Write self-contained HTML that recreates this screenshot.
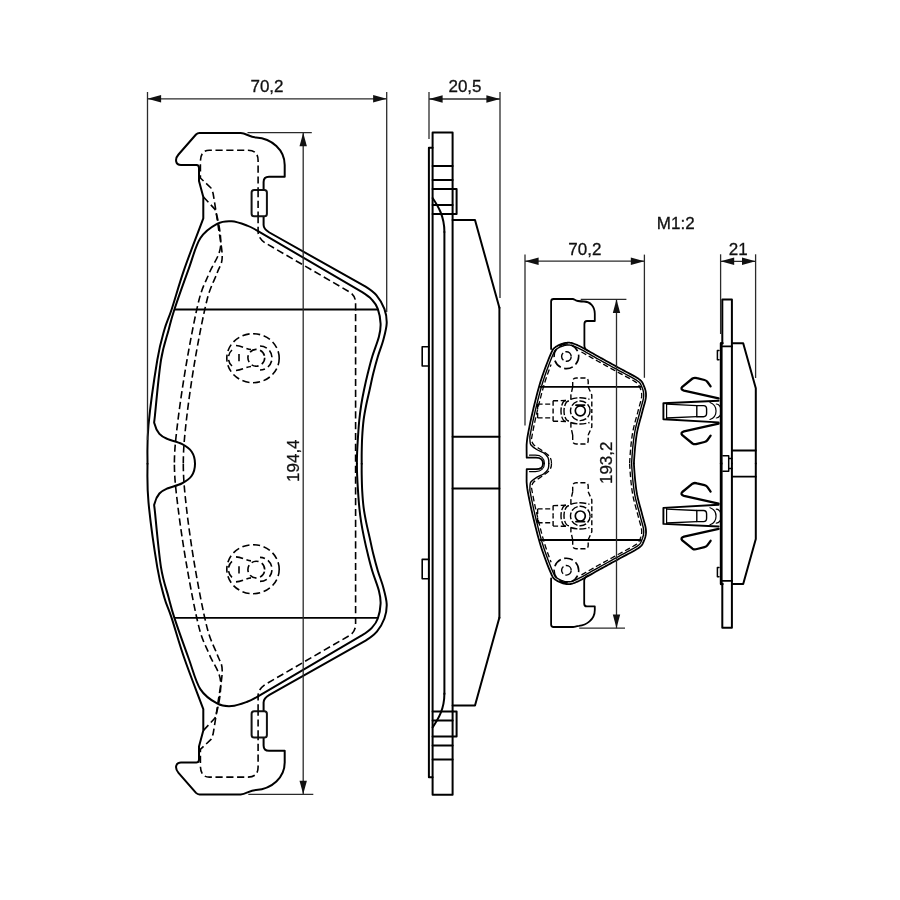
<!DOCTYPE html>
<html><head><meta charset="utf-8"><style>
html,body{margin:0;padding:0;background:#fff;}
svg{display:block;font-family:"Liberation Sans",sans-serif;will-change:transform;}
text{fill:#111;stroke:#111;stroke-width:0.3px;}
</style></head><body>
<svg width="900" height="900" viewBox="0 0 900 900">
<rect width="900" height="900" fill="#fff"/>
<g><path d="M147.5,463.7 C147.5,450.8 146.87,442.28 148.5,425 C150.13,407.72 154.67,375.83 157.3,360 C159.93,344.17 161.92,338.42 164.3,330 C166.68,321.58 168.25,319.68 171.6,309.5 C174.95,299.32 179.12,284.1 184.4,268.9 C189.68,253.7 197,235.17 203.3,218.3 L203.3,197 L199,181 L199,168 Q199,165 196.5,165 L181,165 C175.5,165 174.5,159 178.5,154.5 L196,134.5 Q197.5,133 199.5,133 L240.7,133 C246,133 249,137 256,137.5 C272,138.5 284.7,150 284.7,165 L284.7,176.7 L269,176.7 Q263.6,176.7 263.6,182 L263.6,225 Q263.6,229 269.4,232.5 L365.6,286.7 C373.38,291.62 373.57,291.9 376.7,295.6 C379.83,299.3 382.73,304.28 384.4,308.9 C386.07,313.52 386.88,318.12 386.7,323.3 C386.52,328.48 384.78,334.43 383.3,340 C381.82,345.57 379.47,351.15 377.8,356.7 C376.13,362.25 374.67,367.75 373.3,373.3 C371.93,378.85 370.78,384.72 369.6,390 C368.42,395.28 367.2,400 366.2,405 C365.2,410 364.27,414.72 363.6,420 C362.93,425.28 362.52,431.2 362.2,436.7 C361.88,442.2 361.78,448.5 361.7,453 C361.62,457.5 361.7,460.13 361.7,463.7" stroke="#000" stroke-width="2" fill="none" stroke-linejoin="round" stroke-linecap="round"/>
<path d="M195,463.7 C195,459.7 193.92,455 191.7,451.7 C189.48,448.4 185.78,446.03 181.7,443.9 C177.62,441.77 170.92,440.57 167.2,438.9 C163.48,437.23 161.5,436.38 159.4,433.9 C157.3,431.42 155.33,427.15 154.6,424 C153.87,420.85 153.93,425.67 155,415 C156.07,404.33 158.73,374.17 161,360 C163.27,345.83 166.37,338.42 168.6,330 C170.83,321.58 171.05,319.68 174.4,309.5 C177.75,299.32 184.38,280.77 188.7,268.9 C193.02,257.03 195.5,245.83 200.3,238.3 C205.1,230.77 212.27,226.53 217.5,223.7 C222.73,220.87 226.75,220.98 231.7,221.3 C236.65,221.62 242.95,224.05 247.2,225.6 C251.45,227.15 250.9,227.08 257.2,230.6 L362.2,292.2 C369.23,296.65 369.6,297.22 372.2,300 C374.8,302.78 376.4,304.93 377.8,308.9 C379.2,312.87 380.42,319.17 380.6,323.8 C380.78,328.43 380.3,331.22 378.9,336.7 C377.5,342.18 374.05,350.6 372.2,356.7 C370.35,362.8 369.17,367.75 367.8,373.3 C366.43,378.85 365.1,384.72 364,390 C362.9,395.28 361.98,400 361.2,405 C360.42,410 359.83,414.72 359.3,420 C358.77,425.28 358.37,431.2 358,436.7 C357.63,442.2 357.28,448.5 357.1,453 C356.92,457.5 356.92,460.13 356.9,463.7" stroke="#000" stroke-width="2" fill="none" stroke-linejoin="round" stroke-linecap="round"/>
<path d="M175,309.5 L377.3,309.5" stroke="#000" stroke-width="1.8" fill="none" stroke-linejoin="round" stroke-linecap="round"/>
<path d="M258.1,216 L258.1,160.5 Q258.1,150.3 248,150.3 L209.3,150.3 Q200.4,150.3 200.4,161.8 L200.4,178 L211,188 L213,193 C214.17,199.17 216.47,214.33 218,225 C219.53,235.67 222.33,249.03 222.2,257 C222.07,264.97 219.73,265.63 217.2,272.8 C214.67,279.97 210.7,285.47 207,300 C203.3,314.53 198.43,340 195,360 C191.57,380 188.35,402.72 186.4,420 C184.45,437.28 183.3,449.13 183.3,463.7" stroke="#000" stroke-width="1.6" fill="none" stroke-linejoin="round" stroke-linecap="butt" stroke-dasharray="7.2 3.6"/>
<path d="M203.5,197 L215,209.4 C217.85,217.57 221.53,235.43 220.6,246 C219.67,256.57 213,263.8 209.4,272.8 C205.8,281.8 202.73,285.47 199,300 C195.27,314.53 190.5,340 187,360 C183.5,380 180.1,402.72 178,420 C175.9,437.28 174.4,449.13 174.4,463.7" stroke="#000" stroke-width="1.6" fill="none" stroke-linejoin="round" stroke-linecap="butt" stroke-dasharray="7.2 3.6"/>
<path d="M258.1,216 L258.1,231.7 Q258.1,238 265,242.8 L350,292.2 Q355.6,296 355.6,303 L355.6,463.7" stroke="#000" stroke-width="1.6" fill="none" stroke-linejoin="round" stroke-linecap="butt" stroke-dasharray="7.2 3.6"/>
<rect x="251.6" y="190" width="15.3" height="26.2" rx="2.5" fill="#fff" stroke="#111" stroke-width="2"/>
<path d="M258.1,190 L258.1,216" stroke="#000" stroke-width="1.6" fill="none" stroke-linejoin="round" stroke-linecap="butt" stroke-dasharray="7.2 3.6"/>
<ellipse cx="253" cy="358.2" rx="26.2" ry="24.5" stroke="#000" stroke-width="1.6" fill="none" stroke-linejoin="round" stroke-linecap="butt" stroke-dasharray="7.2 3.6"/>
<circle cx="256.3" cy="357.8" r="8.4" stroke="#000" stroke-width="1.6" fill="none" stroke-linejoin="round" stroke-linecap="butt" stroke-dasharray="7.2 3.6"/>
<path d="M260,346 A12,12 0 0 1 260,370" stroke="#000" stroke-width="1.6" fill="none" stroke-linejoin="round" stroke-linecap="butt" stroke-dasharray="7.2 3.6"/>
<path d="M236,345.5 C242,346 246,349 251,349.5 M236,370.5 C242,370 246,367 251,366.5" stroke="#000" stroke-width="1.6" fill="none" stroke-linejoin="round" stroke-linecap="butt" stroke-dasharray="7.2 3.6"/>
<path d="M232,350 A9,10 0 0 0 232,366 M239,354 L239,362" stroke="#000" stroke-width="1.6" fill="none" stroke-linejoin="round" stroke-linecap="butt" stroke-dasharray="7.2 3.6"/></g>
<g transform="translate(0,927.4) scale(1,-1)"><path d="M147.5,463.7 C147.5,450.8 146.87,442.28 148.5,425 C150.13,407.72 154.67,375.83 157.3,360 C159.93,344.17 161.92,338.42 164.3,330 C166.68,321.58 168.25,319.68 171.6,309.5 C174.95,299.32 179.12,284.1 184.4,268.9 C189.68,253.7 197,235.17 203.3,218.3 L203.3,197 L199,181 L199,168 Q199,165 196.5,165 L181,165 C175.5,165 174.5,159 178.5,154.5 L196,134.5 Q197.5,133 199.5,133 L240.7,133 C246,133 249,137 256,137.5 C272,138.5 284.7,150 284.7,165 L284.7,176.7 L269,176.7 Q263.6,176.7 263.6,182 L263.6,225 Q263.6,229 269.4,232.5 L365.6,286.7 C373.38,291.62 373.57,291.9 376.7,295.6 C379.83,299.3 382.73,304.28 384.4,308.9 C386.07,313.52 386.88,318.12 386.7,323.3 C386.52,328.48 384.78,334.43 383.3,340 C381.82,345.57 379.47,351.15 377.8,356.7 C376.13,362.25 374.67,367.75 373.3,373.3 C371.93,378.85 370.78,384.72 369.6,390 C368.42,395.28 367.2,400 366.2,405 C365.2,410 364.27,414.72 363.6,420 C362.93,425.28 362.52,431.2 362.2,436.7 C361.88,442.2 361.78,448.5 361.7,453 C361.62,457.5 361.7,460.13 361.7,463.7" stroke="#000" stroke-width="2" fill="none" stroke-linejoin="round" stroke-linecap="round"/>
<path d="M195,463.7 C195,459.7 193.92,455 191.7,451.7 C189.48,448.4 185.78,446.03 181.7,443.9 C177.62,441.77 170.92,440.57 167.2,438.9 C163.48,437.23 161.5,436.38 159.4,433.9 C157.3,431.42 155.33,427.15 154.6,424 C153.87,420.85 153.93,425.67 155,415 C156.07,404.33 158.73,374.17 161,360 C163.27,345.83 166.37,338.42 168.6,330 C170.83,321.58 171.05,319.68 174.4,309.5 C177.75,299.32 184.38,280.77 188.7,268.9 C193.02,257.03 195.5,245.83 200.3,238.3 C205.1,230.77 212.27,226.53 217.5,223.7 C222.73,220.87 226.75,220.98 231.7,221.3 C236.65,221.62 242.95,224.05 247.2,225.6 C251.45,227.15 250.9,227.08 257.2,230.6 L362.2,292.2 C369.23,296.65 369.6,297.22 372.2,300 C374.8,302.78 376.4,304.93 377.8,308.9 C379.2,312.87 380.42,319.17 380.6,323.8 C380.78,328.43 380.3,331.22 378.9,336.7 C377.5,342.18 374.05,350.6 372.2,356.7 C370.35,362.8 369.17,367.75 367.8,373.3 C366.43,378.85 365.1,384.72 364,390 C362.9,395.28 361.98,400 361.2,405 C360.42,410 359.83,414.72 359.3,420 C358.77,425.28 358.37,431.2 358,436.7 C357.63,442.2 357.28,448.5 357.1,453 C356.92,457.5 356.92,460.13 356.9,463.7" stroke="#000" stroke-width="2" fill="none" stroke-linejoin="round" stroke-linecap="round"/>
<path d="M175,309.5 L377.3,309.5" stroke="#000" stroke-width="1.8" fill="none" stroke-linejoin="round" stroke-linecap="round"/>
<path d="M258.1,216 L258.1,160.5 Q258.1,150.3 248,150.3 L209.3,150.3 Q200.4,150.3 200.4,161.8 L200.4,178 L211,188 L213,193 C214.17,199.17 216.47,214.33 218,225 C219.53,235.67 222.33,249.03 222.2,257 C222.07,264.97 219.73,265.63 217.2,272.8 C214.67,279.97 210.7,285.47 207,300 C203.3,314.53 198.43,340 195,360 C191.57,380 188.35,402.72 186.4,420 C184.45,437.28 183.3,449.13 183.3,463.7" stroke="#000" stroke-width="1.6" fill="none" stroke-linejoin="round" stroke-linecap="butt" stroke-dasharray="7.2 3.6"/>
<path d="M203.5,197 L215,209.4 C217.85,217.57 221.53,235.43 220.6,246 C219.67,256.57 213,263.8 209.4,272.8 C205.8,281.8 202.73,285.47 199,300 C195.27,314.53 190.5,340 187,360 C183.5,380 180.1,402.72 178,420 C175.9,437.28 174.4,449.13 174.4,463.7" stroke="#000" stroke-width="1.6" fill="none" stroke-linejoin="round" stroke-linecap="butt" stroke-dasharray="7.2 3.6"/>
<path d="M258.1,216 L258.1,231.7 Q258.1,238 265,242.8 L350,292.2 Q355.6,296 355.6,303 L355.6,463.7" stroke="#000" stroke-width="1.6" fill="none" stroke-linejoin="round" stroke-linecap="butt" stroke-dasharray="7.2 3.6"/>
<rect x="251.6" y="190" width="15.3" height="26.2" rx="2.5" fill="#fff" stroke="#111" stroke-width="2"/>
<path d="M258.1,190 L258.1,216" stroke="#000" stroke-width="1.6" fill="none" stroke-linejoin="round" stroke-linecap="butt" stroke-dasharray="7.2 3.6"/>
<ellipse cx="253" cy="358.2" rx="26.2" ry="24.5" stroke="#000" stroke-width="1.6" fill="none" stroke-linejoin="round" stroke-linecap="butt" stroke-dasharray="7.2 3.6"/>
<circle cx="256.3" cy="357.8" r="8.4" stroke="#000" stroke-width="1.6" fill="none" stroke-linejoin="round" stroke-linecap="butt" stroke-dasharray="7.2 3.6"/>
<path d="M260,346 A12,12 0 0 1 260,370" stroke="#000" stroke-width="1.6" fill="none" stroke-linejoin="round" stroke-linecap="butt" stroke-dasharray="7.2 3.6"/>
<path d="M236,345.5 C242,346 246,349 251,349.5 M236,370.5 C242,370 246,367 251,366.5" stroke="#000" stroke-width="1.6" fill="none" stroke-linejoin="round" stroke-linecap="butt" stroke-dasharray="7.2 3.6"/>
<path d="M232,350 A9,10 0 0 0 232,366 M239,354 L239,362" stroke="#000" stroke-width="1.6" fill="none" stroke-linejoin="round" stroke-linecap="butt" stroke-dasharray="7.2 3.6"/></g>
<path d="M147.5,92 L147.5,440" stroke="#2a2a2a" stroke-width="1.3" fill="none"/>
<path d="M386.7,92 L386.7,312" stroke="#2a2a2a" stroke-width="1.3" fill="none"/>
<path d="M147.5,98.8 L386.7,98.8" stroke="#2a2a2a" stroke-width="1.3" fill="none"/>
<path d="M147.5,98.8 L161.1,95.1 L161.1,102.5 Z" fill="#111"/>
<path d="M386.7,98.8 L373.1,95.1 L373.1,102.5 Z" fill="#111"/>
<text x="267" y="92" text-anchor="middle" font-size="17">70,2</text>
<path d="M247.5,132.7 L311.8,132.7" stroke="#2a2a2a" stroke-width="1.3" fill="none"/>
<path d="M248.3,794.3 L313.3,794.3" stroke="#2a2a2a" stroke-width="1.3" fill="none"/>
<path d="M303.2,132.7 L303.2,794.3" stroke="#2a2a2a" stroke-width="1.3" fill="none"/>
<path d="M303.2,132.7 L299.5,146.3 L306.9,146.3 Z" fill="#111"/>
<path d="M303.2,794.3 L299.5,780.7 L306.9,780.7 Z" fill="#111"/>
<text transform="translate(299.4,460.7) rotate(-90)" text-anchor="middle" font-size="17">194,4</text>
<path d="M432.6,794.8 L432.6,132.4 L452.6,132.4 L452.6,794.8 Z" stroke="#000" stroke-width="2" fill="none" stroke-linejoin="round" stroke-linecap="round"/>
<path d="M428.9,777.3 L428.9,147.8 L432.6,147.8 M428.9,777.3 L432.6,777.3" stroke="#000" stroke-width="2" fill="none" stroke-linejoin="round" stroke-linecap="round"/>
<path d="M444.4,232 L444.4,694" stroke="#000" stroke-width="2" fill="none" stroke-linejoin="round" stroke-linecap="round"/>
<path d="M499.4,307.8 L499.4,618" stroke="#000" stroke-width="2" fill="none" stroke-linejoin="round" stroke-linecap="round"/>
<g><path d="M432.6,166 L452.6,166" stroke="#000" stroke-width="2" fill="none" stroke-linejoin="round" stroke-linecap="round"/>
<path d="M432.6,180 L452.6,180" stroke="#000" stroke-width="2" fill="none" stroke-linejoin="round" stroke-linecap="round"/>
<path d="M432.6,205 L452.6,205" stroke="#000" stroke-width="2" fill="none" stroke-linejoin="round" stroke-linecap="round"/>
<path d="M432.6,214 L452.6,214" stroke="#000" stroke-width="2" fill="none" stroke-linejoin="round" stroke-linecap="round"/>
<path d="M432.6,189 L456.6,189 L456.6,214 L452.6,214" stroke="#000" stroke-width="2" fill="none" stroke-linejoin="round" stroke-linecap="round"/>
<path d="M432.6,198 C438,206 444.4,216 444.4,232" stroke="#000" stroke-width="2" fill="none" stroke-linejoin="round" stroke-linecap="round"/>
<path d="M452.6,220 L475,220 L499.4,307.8" stroke="#000" stroke-width="2" fill="none" stroke-linejoin="round" stroke-linecap="round"/>
<path d="M452.6,436.8 L499.4,436.8" stroke="#000" stroke-width="2" fill="none" stroke-linejoin="round" stroke-linecap="round"/>
<path d="M428.9,346.7 L422.2,346.7 L422.2,366 L428.9,366" stroke="#000" stroke-width="1.6" fill="none" stroke-linejoin="round" stroke-linecap="round"/></g>
<g transform="translate(0,925.4) scale(1,-1)"><path d="M432.6,166 L452.6,166" stroke="#000" stroke-width="2" fill="none" stroke-linejoin="round" stroke-linecap="round"/>
<path d="M432.6,180 L452.6,180" stroke="#000" stroke-width="2" fill="none" stroke-linejoin="round" stroke-linecap="round"/>
<path d="M432.6,205 L452.6,205" stroke="#000" stroke-width="2" fill="none" stroke-linejoin="round" stroke-linecap="round"/>
<path d="M432.6,214 L452.6,214" stroke="#000" stroke-width="2" fill="none" stroke-linejoin="round" stroke-linecap="round"/>
<path d="M432.6,189 L456.6,189 L456.6,214 L452.6,214" stroke="#000" stroke-width="2" fill="none" stroke-linejoin="round" stroke-linecap="round"/>
<path d="M432.6,198 C438,206 444.4,216 444.4,232" stroke="#000" stroke-width="2" fill="none" stroke-linejoin="round" stroke-linecap="round"/>
<path d="M452.6,220 L475,220 L499.4,307.8" stroke="#000" stroke-width="2" fill="none" stroke-linejoin="round" stroke-linecap="round"/>
<path d="M452.6,436.8 L499.4,436.8" stroke="#000" stroke-width="2" fill="none" stroke-linejoin="round" stroke-linecap="round"/>
<path d="M428.9,346.7 L422.2,346.7 L422.2,366 L428.9,366" stroke="#000" stroke-width="1.6" fill="none" stroke-linejoin="round" stroke-linecap="round"/></g>
<path d="M429,92 L429,139" stroke="#2a2a2a" stroke-width="1.3" fill="none"/>
<path d="M500,92 L500,298" stroke="#2a2a2a" stroke-width="1.3" fill="none"/>
<path d="M429,99 L500,99" stroke="#2a2a2a" stroke-width="1.3" fill="none"/>
<path d="M429,99 L442.6,95.3 L442.6,102.7 Z" fill="#111"/>
<path d="M500,99 L486.4,95.3 L486.4,102.7 Z" fill="#111"/>
<text x="465" y="92" text-anchor="middle" font-size="17">20,5</text>
<g><path d="M543,463.4 C543,459.5 540.5,457.6 536,457.6 L526.7,457.7 L526.6,450 L526.6,445 L526.76,443 L526.93,441.18 L527.13,439.5 L527.34,437.91 L527.58,436.37 L527.85,434.83 L528.14,433.25 L528.46,431.58 L528.81,429.78 L529.2,427.8 L529.63,425.65 L530.1,423.37 L530.6,420.98 L531.13,418.52 L531.69,416 L532.27,413.44 L532.87,410.87 L533.48,408.31 L534.09,405.78 L534.7,403.3 L535.31,400.86 L535.92,398.42 L536.54,395.98 L537.17,393.54 L537.82,391.1 L538.48,388.66 L539.17,386.22 L539.88,383.78 L540.62,381.34 L541.4,378.9 L542.24,376.38 L543.15,373.73 L544.11,371.02 L545.11,368.28 L546.11,365.58 L547.11,362.97 L548.08,360.49 L549,358.2 L549.84,356.15 L550.6,354.4 L551.24,352.96 L551.76,351.79 L552.19,350.85 L552.58,350.1 L552.94,349.49 L553.31,348.98 L553.72,348.53 L554.2,348.09 L554.78,347.63 L555.5,347.1 L556.35,346.52 L557.31,345.94 L558.35,345.38 L559.46,344.84 L560.62,344.34 L561.81,343.89 L563.01,343.5 L564.2,343.18 L565.37,342.95 L566.5,342.8 L567.55,342.72 L568.52,342.69 L569.44,342.72 L570.35,342.8 L571.28,342.96 L572.27,343.21 L573.35,343.54 L574.56,343.98 L575.93,344.53 L577.5,345.2 L579.3,346.03 L581.3,347.05 L583.48,348.2 L585.79,349.47 L588.19,350.81 L590.63,352.2 L593.07,353.59 L595.48,354.96 L597.8,356.28 L600,357.5 L602.11,358.66 L604.19,359.8 L606.24,360.92 L608.27,362.04 L610.27,363.14 L612.25,364.23 L614.21,365.31 L616.16,366.38 L618.08,367.44 L620,368.5 L621.95,369.56 L623.96,370.64 L626,371.71 L628.03,372.78 L630.02,373.84 L631.94,374.87 L633.74,375.87 L635.41,376.83 L636.91,377.74 L638.2,378.6 L639.27,379.37 L640.13,380.04 L640.83,380.65 L641.38,381.21 L641.83,381.74 L642.2,382.29 L642.52,382.86 L642.83,383.48 L643.14,384.19 L643.5,385 L643.89,385.89 L644.28,386.82 L644.65,387.8 L645,388.82 L645.32,389.89 L645.59,391 L645.8,392.17 L645.95,393.39 L646.02,394.67 L646,396 L645.88,397.38 L645.67,398.81 L645.38,400.29 L645.02,401.82 L644.6,403.4 L644.14,405.04 L643.66,406.74 L643.17,408.49 L642.68,410.31 L642.2,412.2 L641.71,414.15 L641.17,416.15 L640.59,418.2 L639.99,420.32 L639.39,422.5 L638.79,424.74 L638.21,427.05 L637.65,429.43 L637.15,431.88 L636.7,434.4 L636.3,437.02 L635.93,439.76 L635.59,442.6 L635.27,445.51 L634.98,448.47 L634.72,451.47 L634.48,454.49 L634.26,457.49 L634.07,460.47 L633.9,463.4" stroke="#000" stroke-width="1.8" fill="none" stroke-linejoin="round" stroke-linecap="round"/>
<path d="M544.4,463.4 C544.4,458.5 541,455.2 535.5,455.2 L529.5,455.2" stroke="#000" stroke-width="1.2" fill="none" stroke-linejoin="round" stroke-linecap="round"/>
<path d="M548.8,463.4 C548.8,461.43 548.88,459.27 548,457.5 C547.12,455.73 545.38,454.13 543.5,452.8 C541.62,451.47 538.78,450.8 536.7,449.5 C534.62,448.2 532.12,446.42 531,445 C529.88,443.58 530.19,442.38 530,441 L529.85,436.74 L530.11,435.24 L530.4,433.68 L530.72,432.02 L531.07,430.22 L531.46,428.24 L531.88,426.1 L532.35,423.84 L532.85,421.47 L533.38,419.01 L533.94,416.5 L534.52,413.96 L535.11,411.4 L535.71,408.85 L536.32,406.32 L536.93,403.85 L537.54,401.42 L538.15,398.98 L538.77,396.55 L539.4,394.12 L540.04,391.7 L540.7,389.28 L541.38,386.86 L542.08,384.44 L542.82,382.03 L543.59,379.61 L544.42,377.11 L545.32,374.49 L546.28,371.79 L547.26,369.08 L548.26,366.39 L549.26,363.79 L550.22,361.34 L551.13,359.07 L551.96,357.05 L552.71,355.32 L553.34,353.89 L553.85,352.74 L554.26,351.85 L554.6,351.2 L554.86,350.74 L555.09,350.43 L555.34,350.16 L555.68,349.85 L556.18,349.46 L556.83,348.98 L557.59,348.46 L558.45,347.94 L559.4,347.43 L560.42,346.93 L561.48,346.48 L562.57,346.06 L563.66,345.71 L564.73,345.42 L565.75,345.21 L566.73,345.09 L567.67,345.02 L568.53,344.99 L569.3,345.01 L570.04,345.08 L570.81,345.21 L571.65,345.42 L572.62,345.72 L573.74,346.13 L575.05,346.65 L576.56,347.3 L578.29,348.1 L580.25,349.09 L582.39,350.23 L584.68,351.48 L587.06,352.82 L589.49,354.2 L591.93,355.59 L594.34,356.96 L596.68,358.28 L598.89,359.51 L601,360.67 L603.08,361.81 L605.13,362.94 L607.16,364.05 L609.16,365.15 L611.14,366.24 L613.1,367.32 L615.04,368.39 L616.97,369.46 L618.89,370.52 L620.86,371.59 L622.88,372.67 L624.93,373.75 L626.95,374.82 L628.93,375.87 L630.83,376.89 L632.62,377.87 L634.24,378.81 L635.68,379.69 L636.89,380.49 L637.89,381.21 L638.67,381.82 L639.26,382.33 L639.69,382.76 L640,383.13 L640.25,383.5 L640.48,383.92 L640.74,384.45 L641.04,385.13 L641.4,385.93 L641.78,386.8 L642.14,387.68 L642.49,388.58 L642.81,389.52 L643.1,390.48 L643.34,391.48 L643.53,392.52 L643.66,393.59 L643.72,394.71 L643.7,395.89 L643.6,397.11 L643.4,398.42 L643.13,399.8 L642.78,401.26 L642.38,402.8 L641.93,404.42 L641.45,406.11 L640.95,407.88 L640.45,409.73 L639.97,411.64 L639.48,413.56 L638.95,415.54 L638.38,417.58 L637.78,419.7 L637.17,421.89 L636.56,424.16 L635.97,426.51 L635.41,428.94 L634.89,431.44 L634.43,434.03 L634.02,436.7 L633.65,439.47 L633.3,442.34 L632.98,445.27 L632.69,448.26 L632.43,451.28 L632.19,454.31 L631.97,457.33 L631.77,460.33 L631.6,463.27" stroke="#000" stroke-width="1.4" fill="none" stroke-linejoin="round" stroke-linecap="round"/>
<path d="M551.5,463.4 C551.5,461.1 551.08,458.65 549.5,456.5 C547.92,454.35 544.67,452.5 542,450.5 C539.33,448.5 535.25,446.42 533.5,444.5 C531.75,442.58 531.74,440.49 531.5,439 L532.08,435.59 L532.36,434.05 L532.68,432.4 L533.03,430.61 L533.42,428.63 L533.84,426.5 L534.3,424.24 L534.8,421.88 L535.33,419.44 L535.89,416.94 L536.47,414.41 L537.06,411.85 L537.66,409.31 L538.27,406.8 L538.87,404.34 L539.48,401.9 L540.09,399.47 L540.71,397.04 L541.33,394.63 L541.97,392.21 L542.63,389.81 L543.3,387.41 L544,385.01 L544.73,382.62 L545.49,380.23 L546.31,377.75 L547.21,375.15 L548.16,372.47 L549.14,369.77 L550.14,367.1 L551.12,364.51" stroke="#000" stroke-width="1.3" fill="none" stroke-linejoin="round" stroke-linecap="butt" stroke-dasharray="5.5 2.8"/>
<path d="M581.44,351.99 L583.71,353.23 L586.07,354.56 L588.5,355.94 L590.94,357.33 L593.35,358.7 L595.7,360.03 L597.92,361.26 L600.04,362.43 L602.12,363.57 L604.17,364.69 L606.2,365.81 L608.2,366.91 L610.18,367.99 L612.14,369.07 L614.08,370.14 L616.01,371.21 L617.93,372.27 L619.91,373.35 L621.94,374.43 L623.99,375.52 L626.02,376.58 L627.99,377.63 L629.88,378.64 L631.63,379.62 L633.22,380.53 L634.61,381.37 L635.76,382.14 L636.69,382.81 L637.41,383.37 L637.9,383.8 L638.21,384.11 L638.4,384.34 L638.55,384.55 L638.71,384.85 L638.93,385.3 L639.21,385.94 L639.57,386.74 L639.94,387.58 L640.29,388.42 L640.61,389.26 L640.91,390.12 L641.16,391 L641.38,391.89 L641.55,392.81 L641.66,393.77 L641.72,394.75 L641.71,395.79 L641.61,396.88 L641.43,398.07 L641.18,399.37 L640.84,400.78 L640.45,402.28 L640,403.88 L639.53,405.57 L639.02,407.35 L638.52,409.23 L638.03,411.14 L637.55,413.06 L637.02,415.01 L636.45,417.04 L635.85,419.16 L635.24,421.37 L634.63,423.66 L634.03,426.04 L633.45,428.51 L632.93,431.07 L632.46,433.7 L632.04,436.41 L631.66,439.22 L631.31,442.11 L630.99,445.07 L630.7,448.08 L630.43,451.12 L630.19,454.16 L629.97,457.2 L629.78,460.21 L629.61,463.15" stroke="#000" stroke-width="1.3" fill="none" stroke-linejoin="round" stroke-linecap="butt" stroke-dasharray="5.5 2.8"/>
<path d="M540.2,386.8 L640.6,386.8" stroke="#000" stroke-width="1.8" fill="none" stroke-linejoin="round" stroke-linecap="round"/>
<circle cx="566.4" cy="356.3" r="12.3" stroke="#000" stroke-width="1.6" fill="none" stroke-linejoin="round" stroke-linecap="butt" stroke-dasharray="9 3.5"/>
<circle cx="566.4" cy="356.5" r="4.8" stroke="#000" stroke-width="1.4" fill="none" stroke-linejoin="round" stroke-linecap="butt" stroke-dasharray="8 2.5"/>
<g><path d="M572.7,387 L572.7,381.5 Q572.7,378 576.2,378 L584.7,378 Q588.2,378 588.2,381.5 L588.2,387" stroke="#000" stroke-width="1.4" fill="none" stroke-linejoin="round" stroke-linecap="butt" stroke-dasharray="5 2.6"/>
<path d="M572.7,387 L570.9,395 L570.9,400 M588.2,387 L591.8,395 L591.8,411" stroke="#000" stroke-width="1.4" fill="none" stroke-linejoin="round" stroke-linecap="butt" stroke-dasharray="5 2.6"/>
<path d="M537.6,404.1 L553.1,404.1 M553.1,400.8 L566,400.5 M537.6,404.1 L537.6,411 M553.1,400.8 L553.1,411" stroke="#000" stroke-width="1.4" fill="none" stroke-linejoin="round" stroke-linecap="butt" stroke-dasharray="5 2.6"/></g>
<g transform="translate(0,822) scale(1,-1)"><path d="M572.7,387 L572.7,381.5 Q572.7,378 576.2,378 L584.7,378 Q588.2,378 588.2,381.5 L588.2,387" stroke="#000" stroke-width="1.4" fill="none" stroke-linejoin="round" stroke-linecap="butt" stroke-dasharray="5 2.6"/>
<path d="M572.7,387 L570.9,395 L570.9,400 M588.2,387 L591.8,395 L591.8,411" stroke="#000" stroke-width="1.4" fill="none" stroke-linejoin="round" stroke-linecap="butt" stroke-dasharray="5 2.6"/>
<path d="M537.6,404.1 L553.1,404.1 M553.1,400.8 L566,400.5 M537.6,404.1 L537.6,411 M553.1,400.8 L553.1,411" stroke="#000" stroke-width="1.4" fill="none" stroke-linejoin="round" stroke-linecap="butt" stroke-dasharray="5 2.6"/></g>
<circle cx="580.3" cy="410.8" r="9.8" stroke="#000" stroke-width="1.4" fill="none" stroke-linejoin="round" stroke-linecap="butt" stroke-dasharray="7 2"/>
<circle cx="580.3" cy="410.8" r="5" stroke="#000" stroke-width="1.7" fill="none"/>
<path d="M576,405.2 L584.5,405.2" stroke="#000" stroke-width="1.8" fill="none" stroke-linejoin="round" stroke-linecap="round"/>
<path d="M570.5,399.3 Q580,396.3 589.5,399.3 M570.5,422.5 Q580,425.5 589.5,422.5" stroke="#000" stroke-width="1.4" fill="none" stroke-linejoin="round" stroke-linecap="butt" stroke-dasharray="7 2"/>
<path d="M566,400.5 A5,10.5 0 0 0 566,421.5 M569,401 A5,10 0 0 0 569,421" stroke="#000" stroke-width="1.4" fill="none" stroke-linejoin="round" stroke-linecap="butt" stroke-dasharray="7 2"/></g>
<g transform="translate(0,926.8) scale(1,-1)"><path d="M543,463.4 C543,459.5 540.5,457.6 536,457.6 L526.7,457.7 L526.6,450 L526.6,445 L526.76,443 L526.93,441.18 L527.13,439.5 L527.34,437.91 L527.58,436.37 L527.85,434.83 L528.14,433.25 L528.46,431.58 L528.81,429.78 L529.2,427.8 L529.63,425.65 L530.1,423.37 L530.6,420.98 L531.13,418.52 L531.69,416 L532.27,413.44 L532.87,410.87 L533.48,408.31 L534.09,405.78 L534.7,403.3 L535.31,400.86 L535.92,398.42 L536.54,395.98 L537.17,393.54 L537.82,391.1 L538.48,388.66 L539.17,386.22 L539.88,383.78 L540.62,381.34 L541.4,378.9 L542.24,376.38 L543.15,373.73 L544.11,371.02 L545.11,368.28 L546.11,365.58 L547.11,362.97 L548.08,360.49 L549,358.2 L549.84,356.15 L550.6,354.4 L551.24,352.96 L551.76,351.79 L552.19,350.85 L552.58,350.1 L552.94,349.49 L553.31,348.98 L553.72,348.53 L554.2,348.09 L554.78,347.63 L555.5,347.1 L556.35,346.52 L557.31,345.94 L558.35,345.38 L559.46,344.84 L560.62,344.34 L561.81,343.89 L563.01,343.5 L564.2,343.18 L565.37,342.95 L566.5,342.8 L567.55,342.72 L568.52,342.69 L569.44,342.72 L570.35,342.8 L571.28,342.96 L572.27,343.21 L573.35,343.54 L574.56,343.98 L575.93,344.53 L577.5,345.2 L579.3,346.03 L581.3,347.05 L583.48,348.2 L585.79,349.47 L588.19,350.81 L590.63,352.2 L593.07,353.59 L595.48,354.96 L597.8,356.28 L600,357.5 L602.11,358.66 L604.19,359.8 L606.24,360.92 L608.27,362.04 L610.27,363.14 L612.25,364.23 L614.21,365.31 L616.16,366.38 L618.08,367.44 L620,368.5 L621.95,369.56 L623.96,370.64 L626,371.71 L628.03,372.78 L630.02,373.84 L631.94,374.87 L633.74,375.87 L635.41,376.83 L636.91,377.74 L638.2,378.6 L639.27,379.37 L640.13,380.04 L640.83,380.65 L641.38,381.21 L641.83,381.74 L642.2,382.29 L642.52,382.86 L642.83,383.48 L643.14,384.19 L643.5,385 L643.89,385.89 L644.28,386.82 L644.65,387.8 L645,388.82 L645.32,389.89 L645.59,391 L645.8,392.17 L645.95,393.39 L646.02,394.67 L646,396 L645.88,397.38 L645.67,398.81 L645.38,400.29 L645.02,401.82 L644.6,403.4 L644.14,405.04 L643.66,406.74 L643.17,408.49 L642.68,410.31 L642.2,412.2 L641.71,414.15 L641.17,416.15 L640.59,418.2 L639.99,420.32 L639.39,422.5 L638.79,424.74 L638.21,427.05 L637.65,429.43 L637.15,431.88 L636.7,434.4 L636.3,437.02 L635.93,439.76 L635.59,442.6 L635.27,445.51 L634.98,448.47 L634.72,451.47 L634.48,454.49 L634.26,457.49 L634.07,460.47 L633.9,463.4" stroke="#000" stroke-width="1.8" fill="none" stroke-linejoin="round" stroke-linecap="round"/>
<path d="M544.4,463.4 C544.4,458.5 541,455.2 535.5,455.2 L529.5,455.2" stroke="#000" stroke-width="1.2" fill="none" stroke-linejoin="round" stroke-linecap="round"/>
<path d="M548.8,463.4 C548.8,461.43 548.88,459.27 548,457.5 C547.12,455.73 545.38,454.13 543.5,452.8 C541.62,451.47 538.78,450.8 536.7,449.5 C534.62,448.2 532.12,446.42 531,445 C529.88,443.58 530.19,442.38 530,441 L529.85,436.74 L530.11,435.24 L530.4,433.68 L530.72,432.02 L531.07,430.22 L531.46,428.24 L531.88,426.1 L532.35,423.84 L532.85,421.47 L533.38,419.01 L533.94,416.5 L534.52,413.96 L535.11,411.4 L535.71,408.85 L536.32,406.32 L536.93,403.85 L537.54,401.42 L538.15,398.98 L538.77,396.55 L539.4,394.12 L540.04,391.7 L540.7,389.28 L541.38,386.86 L542.08,384.44 L542.82,382.03 L543.59,379.61 L544.42,377.11 L545.32,374.49 L546.28,371.79 L547.26,369.08 L548.26,366.39 L549.26,363.79 L550.22,361.34 L551.13,359.07 L551.96,357.05 L552.71,355.32 L553.34,353.89 L553.85,352.74 L554.26,351.85 L554.6,351.2 L554.86,350.74 L555.09,350.43 L555.34,350.16 L555.68,349.85 L556.18,349.46 L556.83,348.98 L557.59,348.46 L558.45,347.94 L559.4,347.43 L560.42,346.93 L561.48,346.48 L562.57,346.06 L563.66,345.71 L564.73,345.42 L565.75,345.21 L566.73,345.09 L567.67,345.02 L568.53,344.99 L569.3,345.01 L570.04,345.08 L570.81,345.21 L571.65,345.42 L572.62,345.72 L573.74,346.13 L575.05,346.65 L576.56,347.3 L578.29,348.1 L580.25,349.09 L582.39,350.23 L584.68,351.48 L587.06,352.82 L589.49,354.2 L591.93,355.59 L594.34,356.96 L596.68,358.28 L598.89,359.51 L601,360.67 L603.08,361.81 L605.13,362.94 L607.16,364.05 L609.16,365.15 L611.14,366.24 L613.1,367.32 L615.04,368.39 L616.97,369.46 L618.89,370.52 L620.86,371.59 L622.88,372.67 L624.93,373.75 L626.95,374.82 L628.93,375.87 L630.83,376.89 L632.62,377.87 L634.24,378.81 L635.68,379.69 L636.89,380.49 L637.89,381.21 L638.67,381.82 L639.26,382.33 L639.69,382.76 L640,383.13 L640.25,383.5 L640.48,383.92 L640.74,384.45 L641.04,385.13 L641.4,385.93 L641.78,386.8 L642.14,387.68 L642.49,388.58 L642.81,389.52 L643.1,390.48 L643.34,391.48 L643.53,392.52 L643.66,393.59 L643.72,394.71 L643.7,395.89 L643.6,397.11 L643.4,398.42 L643.13,399.8 L642.78,401.26 L642.38,402.8 L641.93,404.42 L641.45,406.11 L640.95,407.88 L640.45,409.73 L639.97,411.64 L639.48,413.56 L638.95,415.54 L638.38,417.58 L637.78,419.7 L637.17,421.89 L636.56,424.16 L635.97,426.51 L635.41,428.94 L634.89,431.44 L634.43,434.03 L634.02,436.7 L633.65,439.47 L633.3,442.34 L632.98,445.27 L632.69,448.26 L632.43,451.28 L632.19,454.31 L631.97,457.33 L631.77,460.33 L631.6,463.27" stroke="#000" stroke-width="1.4" fill="none" stroke-linejoin="round" stroke-linecap="round"/>
<path d="M551.5,463.4 C551.5,461.1 551.08,458.65 549.5,456.5 C547.92,454.35 544.67,452.5 542,450.5 C539.33,448.5 535.25,446.42 533.5,444.5 C531.75,442.58 531.74,440.49 531.5,439 L532.08,435.59 L532.36,434.05 L532.68,432.4 L533.03,430.61 L533.42,428.63 L533.84,426.5 L534.3,424.24 L534.8,421.88 L535.33,419.44 L535.89,416.94 L536.47,414.41 L537.06,411.85 L537.66,409.31 L538.27,406.8 L538.87,404.34 L539.48,401.9 L540.09,399.47 L540.71,397.04 L541.33,394.63 L541.97,392.21 L542.63,389.81 L543.3,387.41 L544,385.01 L544.73,382.62 L545.49,380.23 L546.31,377.75 L547.21,375.15 L548.16,372.47 L549.14,369.77 L550.14,367.1 L551.12,364.51" stroke="#000" stroke-width="1.3" fill="none" stroke-linejoin="round" stroke-linecap="butt" stroke-dasharray="5.5 2.8"/>
<path d="M581.44,351.99 L583.71,353.23 L586.07,354.56 L588.5,355.94 L590.94,357.33 L593.35,358.7 L595.7,360.03 L597.92,361.26 L600.04,362.43 L602.12,363.57 L604.17,364.69 L606.2,365.81 L608.2,366.91 L610.18,367.99 L612.14,369.07 L614.08,370.14 L616.01,371.21 L617.93,372.27 L619.91,373.35 L621.94,374.43 L623.99,375.52 L626.02,376.58 L627.99,377.63 L629.88,378.64 L631.63,379.62 L633.22,380.53 L634.61,381.37 L635.76,382.14 L636.69,382.81 L637.41,383.37 L637.9,383.8 L638.21,384.11 L638.4,384.34 L638.55,384.55 L638.71,384.85 L638.93,385.3 L639.21,385.94 L639.57,386.74 L639.94,387.58 L640.29,388.42 L640.61,389.26 L640.91,390.12 L641.16,391 L641.38,391.89 L641.55,392.81 L641.66,393.77 L641.72,394.75 L641.71,395.79 L641.61,396.88 L641.43,398.07 L641.18,399.37 L640.84,400.78 L640.45,402.28 L640,403.88 L639.53,405.57 L639.02,407.35 L638.52,409.23 L638.03,411.14 L637.55,413.06 L637.02,415.01 L636.45,417.04 L635.85,419.16 L635.24,421.37 L634.63,423.66 L634.03,426.04 L633.45,428.51 L632.93,431.07 L632.46,433.7 L632.04,436.41 L631.66,439.22 L631.31,442.11 L630.99,445.07 L630.7,448.08 L630.43,451.12 L630.19,454.16 L629.97,457.2 L629.78,460.21 L629.61,463.15" stroke="#000" stroke-width="1.3" fill="none" stroke-linejoin="round" stroke-linecap="butt" stroke-dasharray="5.5 2.8"/>
<path d="M540.2,386.8 L640.6,386.8" stroke="#000" stroke-width="1.8" fill="none" stroke-linejoin="round" stroke-linecap="round"/>
<circle cx="566.4" cy="356.3" r="12.3" stroke="#000" stroke-width="1.6" fill="none" stroke-linejoin="round" stroke-linecap="butt" stroke-dasharray="9 3.5"/>
<circle cx="566.4" cy="356.5" r="4.8" stroke="#000" stroke-width="1.4" fill="none" stroke-linejoin="round" stroke-linecap="butt" stroke-dasharray="8 2.5"/>
<g><path d="M572.7,387 L572.7,381.5 Q572.7,378 576.2,378 L584.7,378 Q588.2,378 588.2,381.5 L588.2,387" stroke="#000" stroke-width="1.4" fill="none" stroke-linejoin="round" stroke-linecap="butt" stroke-dasharray="5 2.6"/>
<path d="M572.7,387 L570.9,395 L570.9,400 M588.2,387 L591.8,395 L591.8,411" stroke="#000" stroke-width="1.4" fill="none" stroke-linejoin="round" stroke-linecap="butt" stroke-dasharray="5 2.6"/>
<path d="M537.6,404.1 L553.1,404.1 M553.1,400.8 L566,400.5 M537.6,404.1 L537.6,411 M553.1,400.8 L553.1,411" stroke="#000" stroke-width="1.4" fill="none" stroke-linejoin="round" stroke-linecap="butt" stroke-dasharray="5 2.6"/></g>
<g transform="translate(0,822) scale(1,-1)"><path d="M572.7,387 L572.7,381.5 Q572.7,378 576.2,378 L584.7,378 Q588.2,378 588.2,381.5 L588.2,387" stroke="#000" stroke-width="1.4" fill="none" stroke-linejoin="round" stroke-linecap="butt" stroke-dasharray="5 2.6"/>
<path d="M572.7,387 L570.9,395 L570.9,400 M588.2,387 L591.8,395 L591.8,411" stroke="#000" stroke-width="1.4" fill="none" stroke-linejoin="round" stroke-linecap="butt" stroke-dasharray="5 2.6"/>
<path d="M537.6,404.1 L553.1,404.1 M553.1,400.8 L566,400.5 M537.6,404.1 L537.6,411 M553.1,400.8 L553.1,411" stroke="#000" stroke-width="1.4" fill="none" stroke-linejoin="round" stroke-linecap="butt" stroke-dasharray="5 2.6"/></g>
<circle cx="580.3" cy="410.8" r="9.8" stroke="#000" stroke-width="1.4" fill="none" stroke-linejoin="round" stroke-linecap="butt" stroke-dasharray="7 2"/>
<circle cx="580.3" cy="410.8" r="5" stroke="#000" stroke-width="1.7" fill="none"/>
<path d="M576,405.2 L584.5,405.2" stroke="#000" stroke-width="1.8" fill="none" stroke-linejoin="round" stroke-linecap="round"/>
<path d="M570.5,399.3 Q580,396.3 589.5,399.3 M570.5,422.5 Q580,425.5 589.5,422.5" stroke="#000" stroke-width="1.4" fill="none" stroke-linejoin="round" stroke-linecap="butt" stroke-dasharray="7 2"/>
<path d="M566,400.5 A5,10.5 0 0 0 566,421.5 M569,401 A5,10 0 0 0 569,421" stroke="#000" stroke-width="1.4" fill="none" stroke-linejoin="round" stroke-linecap="butt" stroke-dasharray="7 2"/></g>
<path d="M551.1,349 L551.1,301.5 Q551.1,299 553.6,299 L572.8,299 C574.5,299 575,300.5 578,301 C580,301.3 582,301.5 584,301.5 C590,301.7 594.8,306 594.8,313.8 L594.8,321 L587,321 Q584.4,321 584.4,324 L584.4,346 Q584.6,349.3 588.5,351" stroke="#000" stroke-width="1.8" fill="none" stroke-linejoin="round" stroke-linecap="round"/>
<path d="M551.1,578.5 L551.1,624.5 Q551.1,627 553.6,627 L573.2,627 C575,627 576,626 578.9,625.9 C586,625.2 594.8,620 594.8,610 L594.8,606.4 L587,606.4 Q584.2,606.4 584.2,603.4 L584.2,580.5 Q584.4,577.2 588.3,575.5" stroke="#000" stroke-width="1.8" fill="none" stroke-linejoin="round" stroke-linecap="round"/>
<path d="M525,254.6 L525,425.5" stroke="#2a2a2a" stroke-width="1.3" fill="none"/>
<path d="M644.4,254.6 L644.4,377.8" stroke="#2a2a2a" stroke-width="1.3" fill="none"/>
<path d="M525,261.2 L644.4,261.2" stroke="#2a2a2a" stroke-width="1.3" fill="none"/>
<path d="M525,261.2 L538.6,257.5 L538.6,264.9 Z" fill="#111"/>
<path d="M644.4,261.2 L630.8,257.5 L630.8,264.9 Z" fill="#111"/>
<text x="584.9" y="254.6" text-anchor="middle" font-size="17">70,2</text>
<path d="M580.7,299.3 L626.4,299.3" stroke="#2a2a2a" stroke-width="1.3" fill="none"/>
<path d="M579.2,628.2 L625,628.2" stroke="#2a2a2a" stroke-width="1.3" fill="none"/>
<path d="M616.5,299.3 L616.5,628.2" stroke="#2a2a2a" stroke-width="1.3" fill="none"/>
<path d="M616.5,299.3 L612.8,312.9 L620.2,312.9 Z" fill="#111"/>
<path d="M616.5,628.2 L612.8,614.6 L620.2,614.6 Z" fill="#111"/>
<text transform="translate(611.5,462.8) rotate(-90)" text-anchor="middle" font-size="17">193,2</text>
<g><path d="M722.3,343.3 L722.3,299.4 L731.9,299.4 L731.9,463.6" stroke="#000" stroke-width="2" fill="none" stroke-linejoin="round" stroke-linecap="round"/>
<path d="M721.2,463.6 L721.2,343.3 L722.3,343.3" stroke="#000" stroke-width="2.8" fill="none" stroke-linejoin="round" stroke-linecap="round"/>
<path d="M722.3,346.4 L732.1,346.4" stroke="#000" stroke-width="1.8" fill="none" stroke-linejoin="round" stroke-linecap="round"/>
<path d="M732.1,343.3 L743.2,343.3 L755.8,388.3 L755.8,463.6" stroke="#000" stroke-width="2" fill="none" stroke-linejoin="round" stroke-linecap="round"/>
<path d="M732.1,450.5 L755.8,450.5" stroke="#000" stroke-width="1.8" fill="none" stroke-linejoin="round" stroke-linecap="round"/>
<path d="M719,350.4 L717.4,350.4 L717.4,359.8 L719,359.8" stroke="#000" stroke-width="1.5" fill="none" stroke-linejoin="round" stroke-linecap="round"/>
<path d="M718.6,400.7 L663.4,403.3 L663.4,419.3 L718.6,422.4" stroke="#000" stroke-width="1.9" fill="none" stroke-linejoin="round" stroke-linecap="round"/>
<path d="M666.6,403.5 L666.6,419" stroke="#000" stroke-width="1.2" fill="none" stroke-linejoin="round" stroke-linecap="round"/>
<path d="M666.6,404.2 L696.8,405.6 M666.6,418 L696.8,416.7" stroke="#000" stroke-width="1.3" fill="none" stroke-linejoin="round" stroke-linecap="round"/>
<path d="M696.8,405.6 L703.5,405.6 Q706.6,405.6 706.6,409 L706.6,413.3 Q706.6,416.7 703.5,416.7 L696.8,416.7 Z" stroke="#000" stroke-width="1.4" fill="none" stroke-linejoin="round" stroke-linecap="round"/>
<path d="M710,402.5 A9,9 0 0 1 710,419.5 M716.3,404 A5,7 0 0 1 716.3,418" stroke="#000" stroke-width="1.2" fill="none" stroke-linejoin="round" stroke-linecap="round"/>
<path d="M718.6,398.4 L684,390.6 Q680,389.3 682.3,386.8 L692.5,378.5 Q694.5,377.3 697,378.2 L704.5,380 Q706.5,380.5 707.5,382 L710.6,386.4" stroke="#000" stroke-width="2.3" fill="none" stroke-linejoin="round" stroke-linecap="round"/>
<g transform="translate(0,822) scale(1,-1)"><path d="M718.6,398.4 L684,390.6 Q680,389.3 682.3,386.8 L692.5,378.5 Q694.5,377.3 697,378.2 L704.5,380 Q706.5,380.5 707.5,382 L710.6,386.4" stroke="#000" stroke-width="2.3" fill="none" stroke-linejoin="round" stroke-linecap="round"/></g></g>
<g transform="translate(0,927.2) scale(1,-1)"><path d="M722.3,343.3 L722.3,299.4 L731.9,299.4 L731.9,463.6" stroke="#000" stroke-width="2" fill="none" stroke-linejoin="round" stroke-linecap="round"/>
<path d="M721.2,463.6 L721.2,343.3 L722.3,343.3" stroke="#000" stroke-width="2.8" fill="none" stroke-linejoin="round" stroke-linecap="round"/>
<path d="M722.3,346.4 L732.1,346.4" stroke="#000" stroke-width="1.8" fill="none" stroke-linejoin="round" stroke-linecap="round"/>
<path d="M732.1,343.3 L743.2,343.3 L755.8,388.3 L755.8,463.6" stroke="#000" stroke-width="2" fill="none" stroke-linejoin="round" stroke-linecap="round"/>
<path d="M732.1,450.5 L755.8,450.5" stroke="#000" stroke-width="1.8" fill="none" stroke-linejoin="round" stroke-linecap="round"/>
<path d="M719,350.4 L717.4,350.4 L717.4,359.8 L719,359.8" stroke="#000" stroke-width="1.5" fill="none" stroke-linejoin="round" stroke-linecap="round"/>
<path d="M718.6,400.7 L663.4,403.3 L663.4,419.3 L718.6,422.4" stroke="#000" stroke-width="1.9" fill="none" stroke-linejoin="round" stroke-linecap="round"/>
<path d="M666.6,403.5 L666.6,419" stroke="#000" stroke-width="1.2" fill="none" stroke-linejoin="round" stroke-linecap="round"/>
<path d="M666.6,404.2 L696.8,405.6 M666.6,418 L696.8,416.7" stroke="#000" stroke-width="1.3" fill="none" stroke-linejoin="round" stroke-linecap="round"/>
<path d="M696.8,405.6 L703.5,405.6 Q706.6,405.6 706.6,409 L706.6,413.3 Q706.6,416.7 703.5,416.7 L696.8,416.7 Z" stroke="#000" stroke-width="1.4" fill="none" stroke-linejoin="round" stroke-linecap="round"/>
<path d="M710,402.5 A9,9 0 0 1 710,419.5 M716.3,404 A5,7 0 0 1 716.3,418" stroke="#000" stroke-width="1.2" fill="none" stroke-linejoin="round" stroke-linecap="round"/>
<path d="M718.6,398.4 L684,390.6 Q680,389.3 682.3,386.8 L692.5,378.5 Q694.5,377.3 697,378.2 L704.5,380 Q706.5,380.5 707.5,382 L710.6,386.4" stroke="#000" stroke-width="2.3" fill="none" stroke-linejoin="round" stroke-linecap="round"/>
<g transform="translate(0,822) scale(1,-1)"><path d="M718.6,398.4 L684,390.6 Q680,389.3 682.3,386.8 L692.5,378.5 Q694.5,377.3 697,378.2 L704.5,380 Q706.5,380.5 707.5,382 L710.6,386.4" stroke="#000" stroke-width="2.3" fill="none" stroke-linejoin="round" stroke-linecap="round"/></g></g>
<path d="M720.6,254.3 L720.6,334" stroke="#2a2a2a" stroke-width="1.3" fill="none"/>
<path d="M722.9,455.7 L728.7,455.7 L728.7,471.2 L722.9,471.2 M728.7,458.4 L731.9,458.4 M728.7,468.5 L731.9,468.5" stroke="#000" stroke-width="1.5" fill="none" stroke-linejoin="round" stroke-linecap="round"/>
<path d="M755.6,254.3 L755.6,378" stroke="#2a2a2a" stroke-width="1.3" fill="none"/>
<path d="M720.6,261.3 L755.6,261.3" stroke="#2a2a2a" stroke-width="1.3" fill="none"/>
<path d="M720.6,261.3 L734.2,257.6 L734.2,265 Z" fill="#111"/>
<path d="M755.6,261.3 L742,257.6 L742,265 Z" fill="#111"/>
<text x="738.2" y="254.8" text-anchor="middle" font-size="17">21</text>
<text x="656.8" y="228.6" font-size="17">M1:2</text>
</svg></body></html>
